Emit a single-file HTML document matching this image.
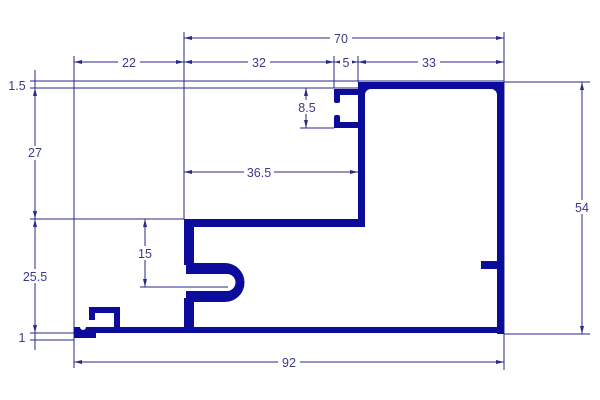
<!DOCTYPE html>
<html><head><style>
body{margin:0;background:#fff}
svg{display:block}
text{font-family:"Liberation Sans",sans-serif;font-size:12.5px;fill:#3a3a8a}
</style></head><body>
<svg width="600" height="400" viewBox="0 0 600 400">
<defs>
<marker id="a" markerWidth="8" markerHeight="6" refX="8" refY="3" orient="auto-start-reverse" markerUnits="userSpaceOnUse"><path d="M0,1 L8,3 L0,5z" fill="#2a2a8a"/></marker>
</defs>
<g stroke="#2a2a8a" stroke-width="1" fill="none">
<line x1="184" y1="32" x2="184" y2="219"/>
<line x1="504" y1="32" x2="504" y2="370"/>
<line x1="74" y1="56" x2="74" y2="368"/>
<line x1="334" y1="56" x2="334" y2="88"/>
<line x1="358" y1="56" x2="358" y2="82"/>
<line x1="30" y1="81" x2="504" y2="81"/>
<line x1="30" y1="88" x2="358" y2="88"/>
<line x1="30" y1="219" x2="184" y2="219"/>
<line x1="30" y1="333" x2="74" y2="333"/>
<line x1="30" y1="340" x2="74" y2="340"/>
<line x1="504" y1="82" x2="590" y2="82"/>
<line x1="504" y1="334" x2="590" y2="334"/>
<line x1="300" y1="128" x2="334" y2="128"/>
<line x1="140" y1="287" x2="228" y2="287"/>
<line x1="184" y1="38" x2="504" y2="38" marker-start="url(#a)" marker-end="url(#a)"/>
<line x1="74" y1="62" x2="184" y2="62" marker-start="url(#a)" marker-end="url(#a)"/>
<line x1="184" y1="62" x2="334" y2="62" marker-start="url(#a)" marker-end="url(#a)"/>
<line x1="334" y1="62" x2="358" y2="62" marker-start="url(#a)" marker-end="url(#a)"/>
<line x1="358" y1="62" x2="504" y2="62" marker-start="url(#a)" marker-end="url(#a)"/>
<line x1="184" y1="172" x2="358" y2="172" marker-start="url(#a)" marker-end="url(#a)"/>
<line x1="74" y1="362" x2="504" y2="362" marker-start="url(#a)" marker-end="url(#a)"/>
<line x1="35" y1="70" x2="35" y2="350"/>
<line x1="35" y1="88" x2="35" y2="219" marker-start="url(#a)" marker-end="url(#a)"/>
<line x1="35" y1="219" x2="35" y2="333" marker-start="url(#a)" marker-end="url(#a)"/>
<line x1="145" y1="219" x2="145" y2="287" marker-start="url(#a)" marker-end="url(#a)"/>
<line x1="306" y1="88" x2="306" y2="128" marker-start="url(#a)" marker-end="url(#a)"/>
<line x1="582" y1="82" x2="582" y2="334" marker-start="url(#a)" marker-end="url(#a)"/>
</g>
<g fill="#fff">
<rect x="330" y="31" width="22" height="14"/>
<rect x="118" y="55" width="22" height="14"/>
<rect x="248" y="55" width="22" height="14"/>
<rect x="340" y="55" width="12" height="14"/>
<rect x="418" y="55" width="22" height="14"/>
<rect x="244" y="165" width="30" height="14"/>
<rect x="278" y="355" width="22" height="14"/>
<rect x="24" y="146" width="22" height="14"/>
<rect x="20" y="269" width="30" height="14"/>
<rect x="135" y="246" width="20" height="14"/>
<rect x="572" y="200" width="22" height="14"/>
<rect x="296" y="100" width="22" height="14"/>
</g>
<text x="341" y="43" text-anchor="middle">70</text>
<text x="129" y="67" text-anchor="middle">22</text>
<text x="259" y="67" text-anchor="middle">32</text>
<text x="346" y="67" text-anchor="middle">5</text>
<text x="429" y="67" text-anchor="middle">33</text>
<text x="259" y="177" text-anchor="middle">36.5</text>
<text x="289" y="367" text-anchor="middle">92</text>
<text x="35" y="157" text-anchor="middle">27</text>
<text x="35" y="281" text-anchor="middle">25.5</text>
<text x="145" y="258" text-anchor="middle">15</text>
<text x="582" y="212" text-anchor="middle">54</text>
<text x="307" y="112" text-anchor="middle">8.5</text>
<text x="17" y="90" text-anchor="middle">1.5</text>
<text x="22" y="342" text-anchor="middle">1</text>
<g fill="#0c0c9c">
<rect x="358" y="82" width="146" height="7"/>
<rect x="497" y="82" width="7" height="252"/>
<rect x="358" y="82" width="7" height="145"/>
<path d="M365,89 h6 a6,6 0 0 0 -6,6z"/>
<path d="M497,89 h-6 a6,6 0 0 1 6,6z"/>
<rect x="184" y="219" width="181" height="8"/>
<rect x="184" y="219" width="10" height="46"/>
<rect x="184" y="298" width="10" height="35"/>
<path d="M186,263 H225 A19.5,19.5 0 0 1 225,302 H186 V291 H227 A8.5,8.5 0 0 0 227,274 H186z"/>
<rect x="96" y="327" width="408" height="6"/>
<rect x="334" y="89" width="24" height="6"/>
<rect x="334" y="122" width="24" height="6"/>
<rect x="334" y="89" width="6" height="14" rx="2"/>
<rect x="334" y="115" width="6" height="13" rx="2"/>
<rect x="481" y="261" width="16" height="8"/>
<rect x="89" y="307" width="31" height="6"/>
<rect x="89" y="307" width="6" height="13"/>
<rect x="114" y="307" width="6" height="20"/>
<path d="M74,327 H80 A3,3 0 0 0 86,327 H96 V338 H74z"/>
</g>
</svg>
</body></html>
